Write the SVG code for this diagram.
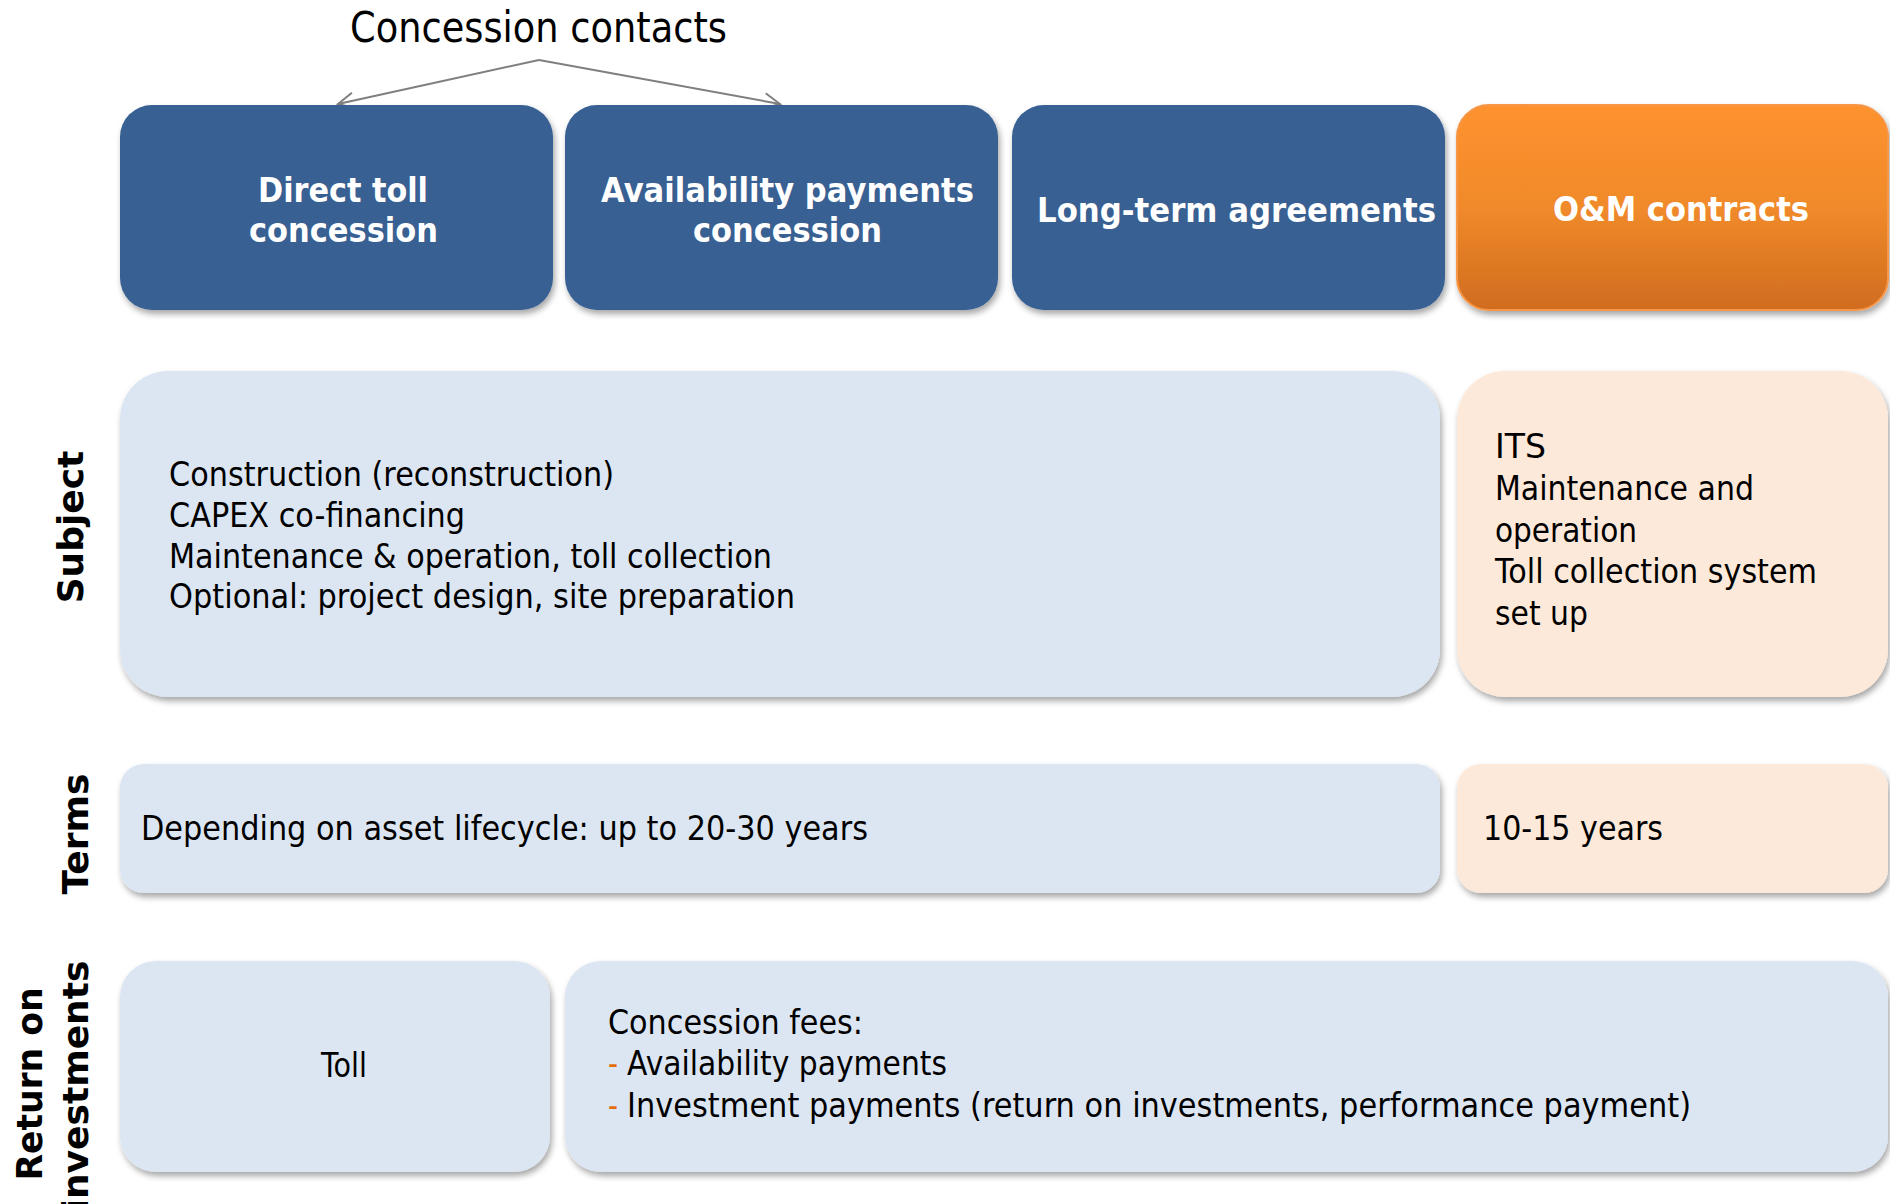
<svg xmlns="http://www.w3.org/2000/svg" width="1890" height="1204" viewBox="0 0 1890 1204">
<style>
.hdr{fill:#376092;}
.lb{fill:#DCE6F2;}
.pc{fill:#FDE9D9;}
.t{font-family:"DejaVu Sans","Liberation Sans",sans-serif;font-size:34px;fill:#000;}
.w{font-family:"DejaVu Sans","Liberation Sans",sans-serif;font-size:34px;font-weight:bold;fill:#fff;}
.lab{font-family:"DejaVu Sans","Liberation Sans",sans-serif;font-size:36px;font-weight:bold;fill:#000;}
.conn{stroke:#7F7F7F;stroke-width:2;fill:none;}
</style>
<defs>
<filter id="sh" x="-5%" y="-10%" width="110%" height="130%">
<feDropShadow dx="2" dy="4" stdDeviation="3" flood-color="#000" flood-opacity="0.35"/>
</filter>
<linearGradient id="og" x1="0" y1="0" x2="0" y2="1">
<stop offset="0" stop-color="#FE922F"/>
<stop offset="0.5" stop-color="#F08A2A"/>
<stop offset="1" stop-color="#D06C1F"/>
</linearGradient>
<marker id="ah" viewBox="0 0 20 20" refX="18" refY="10" markerWidth="20" markerHeight="20" markerUnits="userSpaceOnUse" orient="auto">
<path d="M2,2 L18,10 L2,18" fill="none" stroke="#7F7F7F" stroke-width="2"/>
</marker>
</defs>
<rect width="1890" height="1204" fill="#fff"/>

<g id="title">
<text class="t" x="350" y="42" style="font-size:42px" textLength="377" lengthAdjust="spacingAndGlyphs">Concession contacts</text>
</g>

<g id="connectors">
<path class="conn" d="M539,60 L338,104" marker-end="url(#ah)"/>
<path class="conn" d="M539,60 L780,104" marker-end="url(#ah)"/>
</g>

<g id="direct-toll">
<rect class="hdr" x="120" y="105" width="433" height="205" rx="32" filter="url(#sh)"/>
<text class="w" x="258" y="202" textLength="170" lengthAdjust="spacingAndGlyphs">Direct toll</text>
<text class="w" x="249" y="242" textLength="189" lengthAdjust="spacingAndGlyphs">concession</text>
</g>

<g id="availability">
<rect class="hdr" x="565" y="105" width="433" height="205" rx="32" filter="url(#sh)"/>
<text class="w" x="601" y="202" textLength="373" lengthAdjust="spacingAndGlyphs">Availability payments</text>
<text class="w" x="693" y="242" textLength="189" lengthAdjust="spacingAndGlyphs">concession</text>
</g>

<g id="long-term">
<rect class="hdr" x="1012" y="105" width="433" height="205" rx="32" filter="url(#sh)"/>
<text class="w" x="1037" y="222" textLength="399" lengthAdjust="spacingAndGlyphs">Long-term agreements</text>
</g>

<g id="om">
<rect x="1457" y="105" width="431" height="205" rx="32" fill="url(#og)" stroke="#F79646" stroke-width="2" filter="url(#sh)"/>
<text class="w" x="1553" y="221" textLength="256" lengthAdjust="spacingAndGlyphs">O&amp;M contracts</text>
</g>

<g id="label-subject">
<text class="lab" transform="translate(83,527) rotate(-90)" text-anchor="middle">Subject</text>
</g>
<g id="label-terms">
<text class="lab" transform="translate(88,834) rotate(-90)" text-anchor="middle">Terms</text>
</g>
<g id="label-return">
<text class="lab" transform="translate(42,1084) rotate(-90)" text-anchor="middle" textLength="193" lengthAdjust="spacingAndGlyphs">Return on</text>
<text class="lab" transform="translate(88,1086) rotate(-90)" text-anchor="middle">investments</text>
</g>

<g id="subject-concession">
<rect class="lb" x="120" y="371" width="1320" height="326" rx="48" filter="url(#sh)"/>
<text class="t" x="169" y="486" textLength="445" lengthAdjust="spacingAndGlyphs">Construction (reconstruction)</text>
<text class="t" x="169" y="527" textLength="296" lengthAdjust="spacingAndGlyphs">CAPEX co-financing</text>
<text class="t" x="169" y="568" textLength="603" lengthAdjust="spacingAndGlyphs">Maintenance &amp; operation, toll collection</text>
<text class="t" x="169" y="608" textLength="626" lengthAdjust="spacingAndGlyphs">Optional: project design, site preparation</text>
</g>

<g id="subject-om">
<rect class="pc" x="1457" y="371" width="431" height="326" rx="48" filter="url(#sh)"/>
<text class="t" x="1495" y="458" textLength="51" lengthAdjust="spacingAndGlyphs">ITS</text>
<text class="t" x="1495" y="500" textLength="259" lengthAdjust="spacingAndGlyphs">Maintenance and</text>
<text class="t" x="1495" y="542" textLength="142" lengthAdjust="spacingAndGlyphs">operation</text>
<text class="t" x="1495" y="583" textLength="322" lengthAdjust="spacingAndGlyphs">Toll collection system</text>
<text class="t" x="1495" y="625" textLength="93" lengthAdjust="spacingAndGlyphs">set up</text>
</g>

<g id="terms-concession">
<rect class="lb" x="120" y="764" width="1320" height="129" rx="24" filter="url(#sh)"/>
<text class="t" x="141" y="840" textLength="727" lengthAdjust="spacingAndGlyphs">Depending on asset lifecycle: up to 20-30 years</text>
</g>

<g id="terms-om">
<rect class="pc" x="1457" y="764" width="431" height="129" rx="24" filter="url(#sh)"/>
<text class="t" x="1483" y="840" textLength="180" lengthAdjust="spacingAndGlyphs">10-15 years</text>
</g>

<g id="return-toll">
<rect class="lb" x="120" y="961" width="430" height="211" rx="36" filter="url(#sh)"/>
<text class="t" x="321" y="1077" textLength="46" lengthAdjust="spacingAndGlyphs">Toll</text>
</g>

<g id="return-fees">
<rect class="lb" x="565" y="961" width="1323" height="211" rx="36" filter="url(#sh)"/>
<text class="t" x="608" y="1034" textLength="255" lengthAdjust="spacingAndGlyphs">Concession fees:</text>
<text class="t" x="608" y="1075" style="fill:#E46C0A" textLength="10" lengthAdjust="spacingAndGlyphs">-</text>
<text class="t" x="627" y="1075" textLength="320" lengthAdjust="spacingAndGlyphs">Availability payments</text>
<text class="t" x="608" y="1117" style="fill:#E46C0A" textLength="10" lengthAdjust="spacingAndGlyphs">-</text>
<text class="t" x="627" y="1117" textLength="1064" lengthAdjust="spacingAndGlyphs">Investment payments (return on investments, performance payment)</text>
</g>
</svg>
